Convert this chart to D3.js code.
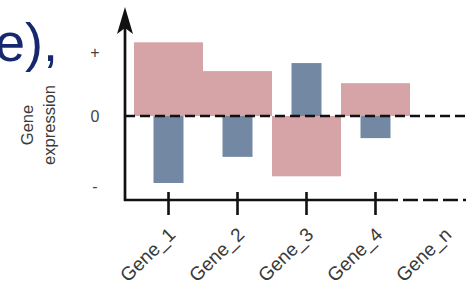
<!DOCTYPE html>
<html>
<head>
<meta charset="utf-8">
<script src="https://cdn.jsdelivr.net/npm/d3@7"></script>
<style>
  html, body { margin: 0; padding: 0; background: #fff; }
  svg { display: block; }
</style>
</head>
<body>
<script>
// ---- data ----
const genes = ["Gene_1", "Gene_2", "Gene_3", "Gene_4", "Gene_n"];
const barGenes = ["Gene_1", "Gene_2", "Gene_3", "Gene_4"];
const pinkValues = [1.10, 0.67, -0.90, 0.49];
const blueValues = [-1.00, -0.61, 0.79, -0.33];
const yTickLabels = ["+", "0", "-"];
const yTickValues = [0.95, 0, -1.05];
const yAxisTitle = ["Gene", "expression"];
const titleFragment = "e),";

const W = 471, H = 282;
const svg = d3.select("body").append("svg").attr("width", W).attr("height", H);

const x = d3.scaleBand().domain(genes).range([134, 134 + 5 * 69]).padding(0);
const y = d3.scaleLinear().domain([-1, 1]).range([183, 49]);

const pink = "#d6a3a6", blue = "#7389a3", ink = "#111";
const font = "Liberation Sans, Arial, sans-serif";

// title fragment
svg.append("text").attr("x", 58).attr("y", 61).attr("text-anchor", "end")
  .attr("font-family", font).attr("font-size", 54)
  .attr("fill", "#17296e").text(titleFragment);

// pink bars
svg.selectAll("rect.pink").data(barGenes).enter().append("rect")
  .attr("x", d => x(d)).attr("width", x.bandwidth())
  .attr("y", (d, i) => Math.min(y(0), y(pinkValues[i])))
  .attr("height", (d, i) => Math.abs(y(pinkValues[i]) - y(0)))
  .attr("fill", pink);

// blue bars
const bw = 30;
svg.selectAll("rect.blue").data(barGenes).enter().append("rect")
  .attr("x", d => x(d) + x.bandwidth() / 2 - bw / 2).attr("width", bw)
  .attr("y", (d, i) => Math.min(y(0), y(blueValues[i])))
  .attr("height", (d, i) => Math.abs(y(blueValues[i]) - y(0)))
  .attr("fill", blue);

// zero dashed line
svg.append("line").attr("x1", 125).attr("x2", 468).attr("y1", y(0)).attr("y2", y(0))
  .attr("stroke", ink).attr("stroke-width", 2.6).attr("stroke-dasharray", "10,5");

// x axis (solid then dashed)
const xAxisY = 200;
svg.append("line").attr("x1", 124).attr("x2", 398).attr("y1", xAxisY).attr("y2", xAxisY)
  .attr("stroke", ink).attr("stroke-width", 2.6);
svg.append("line").attr("x1", 403).attr("x2", 466).attr("y1", xAxisY).attr("y2", xAxisY)
  .attr("stroke", ink).attr("stroke-width", 2.6).attr("stroke-dasharray", "15,5");

// ticks
svg.selectAll("line.tick").data(barGenes).enter().append("line")
  .attr("x1", d => x(d) + x.bandwidth() / 2).attr("x2", d => x(d) + x.bandwidth() / 2)
  .attr("y1", 192).attr("y2", 215).attr("stroke", ink).attr("stroke-width", 2.6);

// x labels
svg.selectAll("text.xl").data(genes).enter().append("text")
  .attr("transform", d => `translate(${x(d) + x.bandwidth() / 2 + 8},${236}) rotate(-44)`)
  .attr("text-anchor", "end")
  .attr("font-family", font).attr("font-size", 19)
  .attr("fill", "#3a3a3a").text(d => d);

// y axis with arrow
svg.append("line").attr("x1", 125).attr("x2", 125).attr("y1", 201).attr("y2", 22)
  .attr("stroke", ink).attr("stroke-width", 2.7);
svg.append("path").attr("d", "M125,7 L133,34 L125,28 L117,34 Z").attr("fill", ink);

// y tick labels
svg.selectAll("text.yl").data(yTickLabels).enter().append("text")
  .attr("x", 95).attr("y", (d, i) => y(yTickValues[i]))
  .attr("dy", "0.35em").attr("text-anchor", "middle")
  .attr("font-family", font).attr("font-size", 16)
  .attr("fill", "#444").text(d => d);

// y axis title
const yt = svg.append("text").attr("transform", "translate(33,125) rotate(-90)")
  .attr("text-anchor", "middle")
  .attr("font-family", font).attr("font-size", 16.5)
  .attr("fill", "#3a3a3a");
yt.selectAll("tspan").data(yAxisTitle).enter().append("tspan")
  .attr("x", 0).attr("dy", (d, i) => i === 0 ? 0 : "1.35em").text(d => d);
</script>
</body>
</html>
